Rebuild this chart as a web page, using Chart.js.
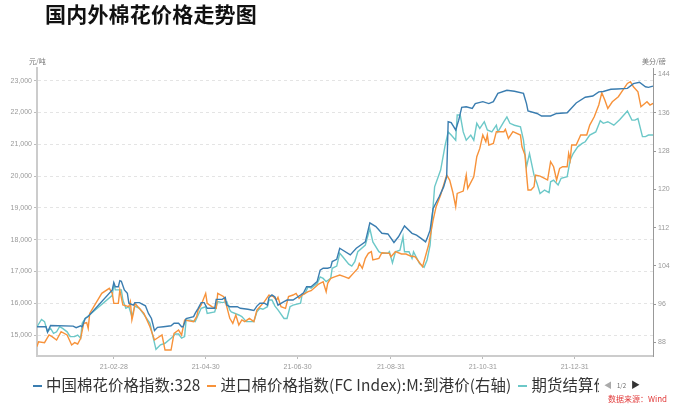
<!DOCTYPE html>
<html><head><meta charset="utf-8">
<script src="https://cdn.jsdelivr.net/npm/chart.js@4"></script>
<style>
body{margin:0;background:#fff;}
#wrap{position:relative;width:673px;height:413px;overflow:hidden;font-family:"Noto Sans CJK SC","Noto Sans",sans-serif;}
canvas{position:absolute;left:0;top:0;}
#title{position:absolute;left:45px;top:0px;font-size:21px;font-weight:bold;color:#111;line-height:26px;letter-spacing:0.2px;}
.unit{position:absolute;top:57px;font-size:7px;color:#777;line-height:9px;}
#legend{position:absolute;left:33px;top:372px;width:566px;height:24px;overflow:hidden;white-space:nowrap;font-family:"Noto Sans CJK SC",sans-serif;font-size:15.4px;letter-spacing:0.12px;color:#333;line-height:24px;}
.item{display:inline-block;margin-right:7px;}
.mark{display:inline-block;width:9px;height:2px;vertical-align:middle;margin-right:4px;position:relative;top:-1px;}
#pager{position:absolute;left:604px;top:375px;white-space:nowrap;line-height:12px;color:#666;}
#pager .l{font-size:8px;color:#aaa;}
#pager .n{font-size:6px;color:#666;margin:0 5px;}
#pager .r{font-size:9px;color:#333;}
#source{position:absolute;left:608px;top:394px;font-size:8px;color:#e23b3b;line-height:10px;white-space:nowrap;}
</style></head>
<body>
<div id="wrap">
<canvas id="c" width="673" height="413"></canvas>
<div id="title">国内外棉花价格走势图</div>
<div class="unit" style="left:29px">元/吨</div>
<div class="unit" style="left:642px">美分/磅</div>
<div id="legend"></div>
<div id="pager"><span class="l">◀</span><span class="n">1/2</span><span class="r">▶</span></div>
<div id="source">数据来源：Wind</div>
</div>
<script>
const seriesNames = ['中国棉花价格指数:328', '进口棉价格指数(FC Index):M:到港价(右轴)', '期货结算价(活跃合约):棉花'];
const seriesColors = ['#3a7db0', '#f7923a', '#6cc8c8'];
const xTickLabels = ['21-02-28','21-04-30','21-06-30','21-08-31','21-10-31','21-12-31'];
const leftTicks = [15000,16000,17000,18000,19000,20000,21000,22000,23000];
const rightTicks = [88,96,104,112,120,128,136,144];

const chinaIndexDates = ['21-01-08','21-01-14','21-01-15','21-01-17','21-02-01','21-02-03','21-02-06','21-02-07','21-02-09','21-02-11','21-02-27','21-02-28','21-03-01','21-03-03','21-03-04','21-03-05','21-03-07','21-03-09','21-03-10','21-03-13','21-03-14','21-03-17','21-03-21','21-03-23','21-03-25','21-03-27','21-03-29','21-04-02','21-04-07','21-04-09','21-04-12','21-04-14','21-04-15','21-04-17','21-04-22','21-04-23','21-04-25','21-04-27','21-04-29','21-05-01','21-05-06','21-05-07','21-05-11','21-05-13','21-05-14','21-05-16','21-05-21','21-05-23','21-05-28','21-06-01','21-06-03','21-06-05','21-06-08','21-06-10','21-06-11','21-06-13','21-06-15','21-06-17','21-06-21','21-06-23','21-06-27','21-07-02','21-07-04','21-07-06','21-07-09','21-07-13','21-07-15','21-07-17','21-07-20','21-07-22','21-07-23','21-07-26','21-07-28','21-08-04','21-08-08','21-08-14','21-08-17','21-08-21','21-08-25','21-08-29','21-09-02','21-09-05','21-09-09','21-09-14','21-09-17','21-09-20','21-09-23','21-09-24','21-09-26','21-09-28','21-10-02','21-10-05','21-10-07','21-10-08','21-10-10','21-10-13','21-10-15','21-10-17','21-10-20','21-10-24','21-10-26','21-10-31','21-11-04','21-11-07','21-11-10','21-11-16','21-11-21','21-11-27','21-11-29','21-11-30','21-12-06','21-12-09','21-12-15','21-12-19','21-12-26','22-01-01','22-01-07','22-01-12','22-01-16','22-01-19','22-01-24','22-01-28','22-02-04','22-02-08','22-02-12','22-02-16','22-02-18','22-02-21'];
const chinaIndexValues = [15260,15260,15090,15300,15280,15230,15290,15260,15520,15580,16420,16650,16520,16520,16710,16690,16420,16310,16000,15940,16020,16020,15920,15680,15520,15140,15240,15260,15290,15370,15370,15260,15260,15520,15580,15680,15840,16020,16020,15840,15840,16120,16120,16180,15940,15890,15890,15840,15810,15770,15910,16000,16000,15940,16180,16260,16200,15940,16050,16100,16100,16260,16330,16520,16520,16680,17040,17100,17100,17130,17310,17380,17730,17520,17730,17930,18530,18410,18200,18180,17910,18090,18430,18200,18140,18040,17930,18040,18300,18980,19350,19660,19980,21710,21680,21450,21760,22160,22180,22130,22280,22340,22280,22340,22600,22700,22670,22600,22280,22050,21970,21890,21890,21970,21990,22300,22480,22520,22650,22660,22730,22740,22760,22910,22950,22810,22790,22830];

const fcIndexDates = ['21-01-08','21-01-09','21-01-13','21-01-16','21-01-18','21-01-21','21-01-24','21-01-28','21-01-31','21-02-02','21-02-04','21-02-06','21-02-08','21-02-10','21-02-11','21-02-12','21-02-20','21-02-25','21-02-27','21-02-28','21-03-03','21-03-04','21-03-06','21-03-10','21-03-11','21-03-12','21-03-13','21-03-14','21-03-16','21-03-20','21-03-24','21-03-27','21-04-01','21-04-03','21-04-07','21-04-09','21-04-12','21-04-14','21-04-16','21-04-22','21-04-24','21-04-25','21-04-27','21-04-30','21-05-01','21-05-04','21-05-07','21-05-08','21-05-12','21-05-14','21-05-16','21-05-18','21-05-20','21-05-22','21-05-24','21-05-26','21-05-29','21-06-01','21-06-03','21-06-05','21-06-08','21-06-11','21-06-14','21-06-16','21-06-17','21-06-19','21-06-22','21-06-24','21-06-27','21-06-29','21-07-01','21-07-03','21-07-05','21-07-07','21-07-09','21-07-12','21-07-14','21-07-17','21-07-19','21-07-20','21-07-22','21-07-25','21-07-28','21-07-31','21-08-03','21-08-06','21-08-09','21-08-10','21-08-12','21-08-14','21-08-16','21-08-18','21-08-19','21-08-23','21-08-25','21-08-30','21-08-31','21-09-03','21-09-07','21-09-10','21-09-13','21-09-16','21-09-21','21-09-25','21-09-28','21-09-30','21-10-03','21-10-05','21-10-07','21-10-09','21-10-11','21-10-13','21-10-14','21-10-18','21-10-20','21-10-21','21-10-25','21-10-27','21-10-29','21-10-31','21-11-02','21-11-03','21-11-04','21-11-07','21-11-09','21-11-14','21-11-15','21-11-17','21-11-20','21-11-25','21-11-26','21-11-28','21-11-29','21-11-30','21-12-02','21-12-04','21-12-05','21-12-08','21-12-11','21-12-13','21-12-15','21-12-17','21-12-19','21-12-21','21-12-23','21-12-26','21-12-27','21-12-28','21-12-29','22-01-01','22-01-04','22-01-08','22-01-10','22-01-13','22-01-16','22-01-18','22-01-20','22-01-22','22-01-25','22-01-29','22-02-04','22-02-06','22-02-08','22-02-11','22-02-13','22-02-17','22-02-19','22-02-21'];
const fcIndexValues = [87.13,88.17,87.97,89.57,89.22,88.52,90.26,89.57,87.48,87.97,87.69,88.87,92.00,92.14,90.96,94.09,98.27,99.32,98.27,96.18,96.18,98.97,95.83,95.49,96.53,92.70,94.09,96.18,95.49,94.09,91.31,88.52,89.57,86.43,86.43,89.92,90.61,89.57,92.70,92.35,93.40,94.79,95.83,98.27,96.18,95.49,95.14,98.27,97.58,95.49,93.05,92.00,93.75,91.66,92.70,92.35,93.05,92.35,94.79,95.49,96.53,97.92,97.58,96.88,97.44,95.49,95.14,97.58,97.92,98.27,97.23,97.92,98.27,98.62,98.83,99.66,100.22,100.71,98.62,100.36,101.41,101.75,102.10,101.75,101.41,102.45,103.49,104.54,103.49,105.58,106.63,106.98,105.24,105.58,106.77,106.63,105.93,106.98,106.49,106.49,106.07,105.93,103.84,108.37,113.59,116.38,118.81,120.90,122.99,121.95,119.51,116.38,119.16,119.64,122.99,120.20,122.64,126.82,128.56,131.35,129.96,131.35,129.26,129.61,132.05,132.05,132.53,130.65,132.05,131.35,128.91,127.17,123.34,119.86,119.86,120.55,122.99,122.78,122.29,121.95,125.78,124.73,121.95,124.39,124.73,124.73,127.52,126.13,129.26,129.26,131.35,131.35,133.44,135.18,137.62,140.19,138.66,136.92,138.31,139.35,142.14,142.49,141.44,140.39,137.27,138.31,137.62,137.97];

const futuresDates = ['21-01-08','21-01-11','21-01-13','21-01-15','21-01-17','21-01-19','21-01-21','21-01-23','21-01-25','21-01-28','21-01-30','21-02-02','21-02-04','21-02-06','21-02-07','21-02-09','21-02-11','21-02-27','21-02-28','21-03-01','21-03-05','21-03-06','21-03-08','21-03-10','21-03-12','21-03-14','21-03-17','21-03-21','21-03-24','21-03-26','21-03-28','21-03-31','21-04-03','21-04-07','21-04-10','21-04-12','21-04-14','21-04-16','21-04-17','21-04-20','21-04-23','21-04-25','21-04-27','21-04-30','21-05-01','21-05-06','21-05-08','21-05-11','21-05-14','21-05-16','21-05-17','21-05-22','21-05-24','21-05-27','21-06-01','21-06-03','21-06-05','21-06-07','21-06-10','21-06-11','21-06-13','21-06-15','21-06-17','21-06-21','21-06-23','21-06-25','21-06-27','21-07-02','21-07-03','21-07-05','21-07-07','21-07-09','21-07-13','21-07-15','21-07-17','21-07-19','21-07-22','21-07-23','21-07-26','21-07-28','21-07-30','21-08-03','21-08-05','21-08-07','21-08-09','21-08-14','21-08-17','21-08-19','21-08-23','21-08-25','21-08-29','21-08-30','21-09-01','21-09-03','21-09-06','21-09-08','21-09-09','21-09-12','21-09-14','21-09-15','21-09-19','21-09-22','21-09-24','21-09-26','21-09-29','21-10-03','21-10-06','21-10-08','21-10-10','21-10-13','21-10-14','21-10-16','21-10-18','21-10-20','21-10-23','21-10-25','21-10-27','21-10-29','21-11-01','21-11-03','21-11-06','21-11-09','21-11-10','21-11-14','21-11-16','21-11-18','21-11-21','21-11-25','21-11-27','21-11-29','21-12-01','21-12-04','21-12-06','21-12-08','21-12-11','21-12-14','21-12-15','21-12-17','21-12-20','21-12-22','21-12-26','21-12-28','21-12-30','22-01-02','22-01-05','22-01-07','22-01-10','22-01-14','22-01-17','22-01-19','22-01-22','22-01-26','22-01-30','22-02-04','22-02-07','22-02-09','22-02-11','22-02-14','22-02-16','22-02-18','22-02-21'];
const futuresValues = [15260,15490,15420,15100,15210,15050,15100,15260,15210,15100,14950,14950,15000,14900,15370,15520,15600,16250,16600,16420,16420,16100,15840,15890,15580,15910,15840,15580,15370,14950,14550,14690,14740,14900,15030,15030,14900,14950,15470,15470,15420,15630,15840,15890,15680,15730,16050,16020,16050,15790,15730,15630,15580,15420,15420,15730,15840,15810,15890,16100,16100,15910,15790,15520,15520,15890,15940,16000,16260,16310,16520,16470,16620,16830,16780,16680,16780,17100,17170,17570,17460,17230,17170,17310,17620,17830,18350,17930,17620,17570,17570,17620,17270,17620,17670,18090,17620,17620,17410,17620,17250,17130,17360,17830,19660,20190,20970,21390,21290,21130,21920,21920,21390,21130,21290,21130,21660,21500,21710,21450,21390,21600,21390,21710,21860,21660,21600,21550,21130,20290,20710,20030,19770,19450,19560,19480,19820,19870,19720,19930,19980,20500,20710,20920,21030,21080,21290,21390,21740,21660,21710,21600,21780,22050,21760,21760,21810,21240,21240,21290,21290];

const BASE = Date.UTC(2021, 0, 1);
function toDay(s) {
  return (Date.UTC(2000 + +s.slice(0, 2), +s.slice(3, 5) - 1, +s.slice(6, 8)) - BASE) / 864e5;
}
function dayLabel(d) {
  const t = new Date(BASE + Math.round(d) * 864e5);
  const p = n => String(n).padStart(2, '0');
  return p(t.getUTCFullYear() % 100) + '-' + p(t.getUTCMonth() + 1) + '-' + p(t.getUTCDate());
}
function pts(ds, vs) { return ds.map((d, i) => ({ x: toDay(d), y: vs[i] })); }

// HTML legend
const lg = document.getElementById('legend');
seriesNames.forEach((n, i) => {
  const it = document.createElement('span'); it.className = 'item';
  const m = document.createElement('span'); m.className = 'mark'; m.style.background = seriesColors[i];
  it.appendChild(m); it.appendChild(document.createTextNode(n)); lg.appendChild(it);
});

const tickFont = { family: 'Arial, "Liberation Sans", sans-serif', size: 7 };
const lineStyle = c => ({ borderColor: c, backgroundColor: c, borderWidth: 1.4, pointRadius: 0, tension: 0, fill: false });

new Chart(document.getElementById('c'), {
  type: 'line',
  data: {
    datasets: [
      Object.assign({ label: seriesNames[0], data: pts(chinaIndexDates, chinaIndexValues), yAxisID: 'yL' }, lineStyle(seriesColors[0])),
      Object.assign({ label: seriesNames[1], data: pts(fcIndexDates, fcIndexValues), yAxisID: 'yR' }, lineStyle(seriesColors[1])),
      Object.assign({ label: seriesNames[2], data: pts(futuresDates, futuresValues), yAxisID: 'yL' }, lineStyle(seriesColors[2]))
    ]
  },
  options: {
    responsive: false, animation: false, devicePixelRatio: 1,
    layout: { padding: { top: 68, bottom: 37, left: 0, right: 0 } },
    plugins: { legend: { display: false }, tooltip: { enabled: false }, title: { display: false } },
    scales: {
      x: {
        type: 'linear',
        min: toDay(chinaIndexDates[0]), max: toDay(chinaIndexDates[chinaIndexDates.length - 1]),
        afterBuildTicks: a => { a.ticks = xTickLabels.map(s => ({ value: toDay(s) })); },
        ticks: { callback: v => dayLabel(v), font: tickFont, color: '#999', maxRotation: 0, autoSkip: false, padding: 4 },
        grid: { drawOnChartArea: false, tickLength: 3, color: '#bbb' },
        border: { color: '#ccc', width: 2 },
        afterFit: s => { s.height = 20; }
      },
      yL: {
        position: 'left', min: 14340, max: 23400,
        afterBuildTicks: a => { a.ticks = leftTicks.map(v => ({ value: v })); },
        ticks: { callback: v => v.toLocaleString('en-US'), font: tickFont, color: '#999', padding: 2 },
        grid: { color: '#e4e4e4', tickLength: 3, tickColor: '#bbb' },
        border: { color: '#ccc', width: 2, dash: [3, 3] },
        afterFit: s => { s.width = 37; }
      },
      yR: {
        position: 'right', min: 85.18, max: 145.36,
        afterBuildTicks: a => { a.ticks = rightTicks.map(v => ({ value: v })); },
        ticks: { callback: v => String(v), font: tickFont, color: '#999', padding: 2 },
        grid: { drawOnChartArea: false, tickLength: 3, color: '#999' },
        border: { color: '#999', width: 1 },
        afterFit: s => { s.width = 20; }
      }
    }
  }
});
</script>
</body></html>
